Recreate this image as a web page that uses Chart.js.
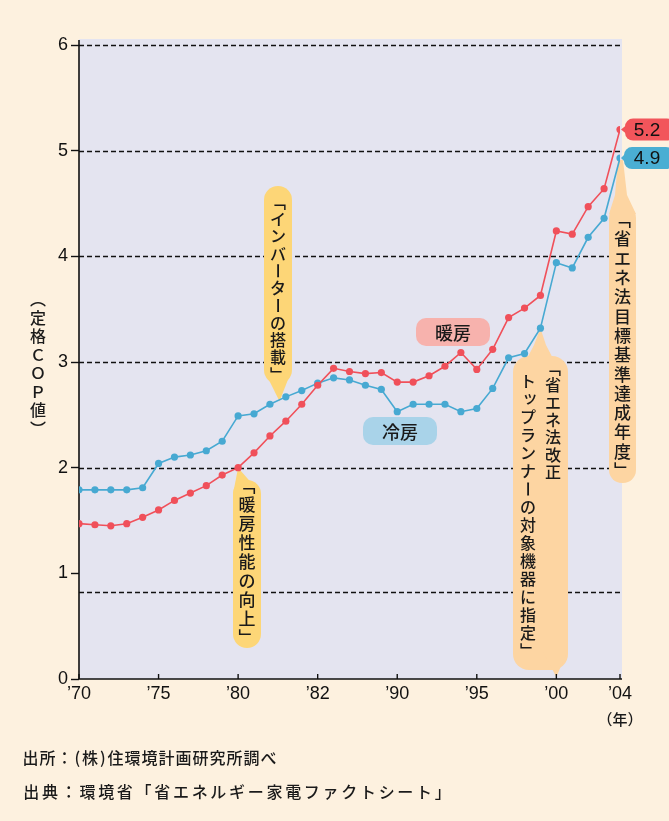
<!DOCTYPE html>
<html><head><meta charset="utf-8">
<script src="https://cdn.jsdelivr.net/npm/chart.js@4/dist/chart.umd.min.js"></script>
<style>html,body{margin:0;padding:0;background:#fdf1df;}#wrap{width:669px;height:821px;}</style>
</head><body><div id="wrap"><canvas id="c" width="669" height="821"></canvas></div>
<script>
// ---- data ----
const years = [1970,1971,1972,1973,1974,1975,1976,1977,1978,1979,1980,1981,1982,1983,1984,1985,1986,1987,1988,1989,1990,1991,1992,1993,1994,1995,1996,1997,1998,1999,2000,2001,2002,2003,2004];
const heating = [1.47,1.46,1.45,1.47,1.53,1.60,1.69,1.76,1.83,1.93,2.00,2.14,2.30,2.44,2.60,2.78,2.94,2.91,2.89,2.90,2.81,2.81,2.87,2.96,3.09,2.93,3.12,3.42,3.51,3.63,4.24,4.21,4.47,4.64,5.20];
const cooling = [1.79,1.79,1.79,1.79,1.81,2.04,2.10,2.12,2.16,2.25,2.49,2.51,2.60,2.67,2.73,2.80,2.85,2.83,2.78,2.74,2.53,2.60,2.60,2.60,2.53,2.56,2.75,3.04,3.08,3.32,3.94,3.89,4.18,4.36,4.93];
const xTickValues = [1970,1975,1980,1985,1990,1995,2000,2004];
const xTickLabels = ["’70","’75","’80","’82","’90","’95","’00","’04"];
const yTickValues = [0,1,2,3,4,5,6];
const dashedGridValues = [2,3,4,5,6,0.82];
const seriesNames = ["暖房","冷房"];
const yTitle = "（定格ＣＯＰ値）";
const xUnit = "（年）";
const noteInverter = "「インバーターの搭載」";
const noteHeating = "「暖房性能の向上」";
const noteRevise1 = "「省エネ法改正";
const noteRevise2 = "トップランナーの対象機器に指定」";
const noteTarget = "「省エネ法目標基準達成年度」";
const source1 = "出所：(株)住環境計画研究所調べ";
const source2 = "出典：環境省「省エネルギー家電ファクトシート」";

const RED = '#f0505a', BLUE = '#47a9d2';
const JP = '"Noto Sans CJK JP", "Noto Sans", sans-serif';
const NUM = '"Liberation Sans", Arial, sans-serif';

const VMAP = {'「':'﹁','」':'﹂','（':'︵','）':'︶'};
function vtext(ctx, str, cx, top, adv, font, color){
  ctx.save(); ctx.font = font; ctx.fillStyle = color || '#1a1a1a';
  ctx.textAlign = 'center'; ctx.textBaseline = 'middle';
  [...str].forEach((ch, i) => {
    const cy = top + adv * (i + 0.5);
    if (ch === 'ー') { ctx.save(); ctx.translate(cx, cy); ctx.rotate(Math.PI/2); ctx.fillText(ch, 0, 0); ctx.restore(); }
    else if ('ッァャュョ'.includes(ch)) ctx.fillText(ch, cx + 2, cy - 2);
    else ctx.fillText(VMAP[ch] || ch, cx, cy);
  });
  ctx.restore();
}
function spaced(ctx, str, x, y, adv, font){
  ctx.save(); ctx.font = font; ctx.fillStyle = '#1a1a1a'; ctx.textAlign = 'center'; ctx.textBaseline = 'middle';
  let px = x;
  [...str].forEach(ch => {
    const w = '()'.includes(ch) ? adv * 0.5 : adv;
    ctx.fillText(ch, px + w / 2, y); px += w;
  });
  ctx.restore();
}
function poly(ctx, pts, color){
  ctx.beginPath(); ctx.moveTo(pts[0][0], pts[0][1]);
  for (let i = 1; i < pts.length; i++) ctx.lineTo(pts[i][0], pts[i][1]);
  ctx.closePath(); ctx.fillStyle = color; ctx.fill();
}
function rbox(ctx, x, y, w, h, r, color){
  ctx.beginPath(); ctx.roundRect(x, y, w, h, r); ctx.fillStyle = color; ctx.fill();
}

const decor = {
  id: 'decor',
  beforeDraw(chart){
    const {ctx, chartArea: a} = chart;
    ctx.save();
    ctx.fillStyle = '#fdf1df'; ctx.fillRect(0, 0, chart.width, chart.height);
    ctx.fillStyle = '#e4e4f0'; ctx.fillRect(a.left, a.top - 6, a.right - a.left + 2, a.bottom - a.top + 6);
    ctx.restore();
  },
  beforeDatasetsDraw(chart){
    const {ctx, chartArea: a, scales: {x, y}} = chart;
    ctx.save();
    // dashed grid
    ctx.strokeStyle = '#111'; ctx.lineWidth = 1.3; ctx.setLineDash([5, 3]);
    dashedGridValues.forEach(v => {
      const py = Math.round(y.getPixelForValue(v)) + 0.5;
      ctx.beginPath(); ctx.moveTo(a.left, py); ctx.lineTo(a.right, py); ctx.stroke();
    });
    ctx.setLineDash([]);
    const YEL = '#fdd677', PEA = '#fdd5a2';
    const F = '500 16px ' + JP;
    // A inverter
    const tA = [x.getPixelForValue(1982.6), y.getPixelForValue(2.6) - 3];
    rbox(ctx, 264, 186, 28, 198, 14, YEL);
    poly(ctx, [[265, 372], [291, 372], tA], YEL);
    vtext(ctx, noteInverter, 278, 193, 17.3, F);
    // B heating performance
    const tB = [x.getPixelForValue(1980), y.getPixelForValue(2.0)];
    rbox(ctx, 233, 480, 28, 168, 14, YEL);
    poly(ctx, [[233, 494], [261, 494], tB], YEL);
    vtext(ctx, noteHeating, 247, 476, 19, '500 17px ' + JP);
    // C top runner
    const tC = [x.getPixelForValue(1999), y.getPixelForValue(3.32)];
    rbox(ctx, 513, 356, 55, 314, 16, PEA);
    poly(ctx, [[520, 372], [560, 372], [546, 345], tC, [534, 345]], PEA);
    poly(ctx, [[543, 652], [567, 652], [x.getPixelForValue(2000), a.bottom - 2]], PEA);
    vtext(ctx, noteRevise1, 553, 359, 17.4, F);
    vtext(ctx, noteRevise2, 528, 372, 18, F);
    // D target year
    const tD = [x.getPixelForValue(2004), y.getPixelForValue(cooling[cooling.length - 1]) + 2];
    rbox(ctx, 609, 205, 27, 278, 13, PEA);
    poly(ctx, [[tD[0] - 2, tD[1]], [tD[0] + 3, tD[1]], [627, 195], [636, 214], [609, 214], [615, 195]], PEA);
    vtext(ctx, noteTarget, 622.5, 210, 19.3, '500 17px ' + JP);
    // series labels
    rbox(ctx, 416, 318, 74, 28, 10, '#f7b2ad');
    rbox(ctx, 363, 417, 74, 28, 10, '#a9d3e9');
    ctx.font = '500 18px ' + JP; ctx.fillStyle = '#1a1a1a'; ctx.textAlign = 'center'; ctx.textBaseline = 'middle';
    ctx.fillText(seriesNames[0], 453, 333);
    ctx.fillText(seriesNames[1], 400, 432);
    // axes lines
    ctx.strokeStyle = '#111'; ctx.lineWidth = 1.6;
    ctx.beginPath(); ctx.moveTo(a.left, a.top - 5); ctx.lineTo(a.left, a.bottom); ctx.lineTo(a.right + 2, a.bottom); ctx.stroke();
    ctx.lineWidth = 1.4;
    xTickValues.forEach(v => {
      const px = x.getPixelForValue(v);
      ctx.beginPath(); ctx.moveTo(px, a.bottom); ctx.lineTo(px, a.bottom - 5); ctx.stroke();
    });
    ctx.restore();
  },
  afterDraw(chart){
    const {ctx, chartArea: a, scales: {x, y}} = chart;
    ctx.save();
    const ry = y.getPixelForValue(heating[heating.length - 1]);
    const by = y.getPixelForValue(cooling[cooling.length - 1]);
    rbox(ctx, 625, ry - 11, 50, 22, 8, '#f2555b');
    poly(ctx, [[626, ry - 4], [626, ry + 4], [621, ry]], '#f2555b');
    rbox(ctx, 624, by - 11, 50, 22, 8, '#4aaed3');
    poly(ctx, [[625, by - 4], [625, by + 4], [621, by]], '#4aaed3');
    ctx.font = '19px ' + NUM; ctx.fillStyle = '#111'; ctx.textAlign = 'center'; ctx.textBaseline = 'middle';
    ctx.fillText(heating[heating.length - 1].toFixed(1), 647, ry + 1);
    ctx.fillText(cooling[cooling.length - 1].toFixed(1), 647, by + 1);
    vtext(ctx, yTitle, 38, 290, 18.5, '500 16px ' + JP);
    ctx.font = '500 15px ' + JP; ctx.fillStyle = '#1a1a1a';
    ctx.fillText(xUnit, 620, 719);
    spaced(ctx, source1, 22, 758, 17, '500 16px ' + JP);
    spaced(ctx, source2, 22, 792, 18.7, '500 16px ' + JP);
    ctx.restore();
  }
};

new Chart(document.getElementById('c'), {
  type: 'line',
  data: {
    datasets: [
      { label: seriesNames[0], data: years.map((yr, i) => ({x: yr, y: heating[i]})), borderColor: RED, backgroundColor: RED, borderWidth: 1.6, pointRadius: 3.6, pointBorderWidth: 0, tension: 0 },
      { label: seriesNames[1], data: years.map((yr, i) => ({x: yr, y: cooling[i]})), borderColor: BLUE, backgroundColor: BLUE, borderWidth: 1.6, pointRadius: 3.6, pointBorderWidth: 0, tension: 0 }
    ]
  },
  options: {
    responsive: false, animation: false, devicePixelRatio: 1,
    layout: { padding: { left: 0, top: 45, right: 49, bottom: 102 } },
    plugins: { legend: { display: false }, tooltip: { enabled: false } },
    scales: {
      x: {
        type: 'linear', min: 1970, max: 2004,
        afterBuildTicks: s => { s.ticks = xTickValues.map(v => ({value: v})); },
        afterFit: s => { s.height = 40; },
        ticks: { callback: (v, i) => xTickLabels[i], autoSkip: false, maxRotation: 0, padding: 4, color: '#111', font: { family: NUM, size: 18 } },
        grid: { drawOnChartArea: false, drawTicks: false },
        border: { display: false }
      },
      y: {
        min: 0, max: 6,
        afterBuildTicks: s => { s.ticks = yTickValues.map(v => ({value: v})); },
        afterFit: s => { s.width = 79; },
        ticks: { padding: 3, color: '#111', font: { family: NUM, size: 18 } },
        grid: { drawOnChartArea: false, drawTicks: true, tickLength: 8, tickColor: '#111', tickWidth: 1.4 },
        border: { display: false }
      }
    }
  },
  plugins: [decor]
});
</script>
</body></html>
